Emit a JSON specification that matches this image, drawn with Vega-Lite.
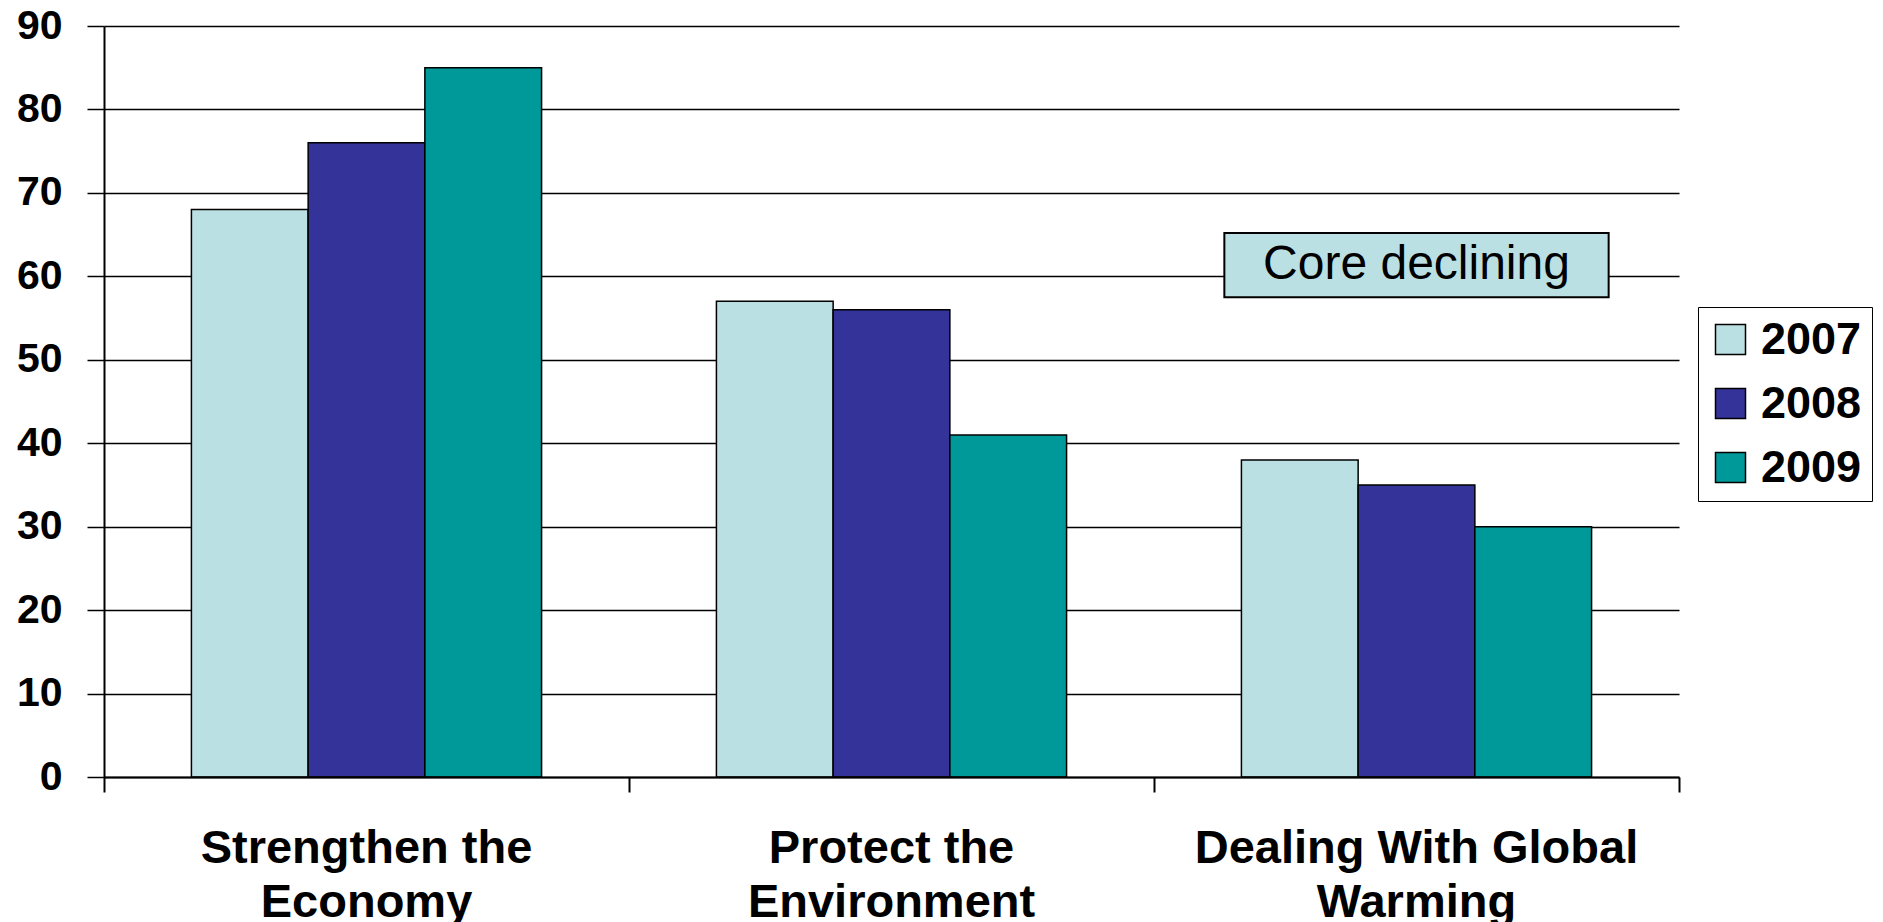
{
  "$schema": "https://vega.github.io/schema/vega-lite/v6.json",
  "width": 1575,
  "height": 751,
  "autosize": "none",
  "padding": {"left": 104, "top": 26, "right": 204, "bottom": 145},
  "background": "white",
  "config": {
    "view": {"stroke": null},
    "font": "Liberation Sans"
  },
  "layer": [
    {
      "data": {
        "values": [
          {"issue": "Strengthen the Economy", "year": "2007", "value": 68},
          {"issue": "Strengthen the Economy", "year": "2008", "value": 76},
          {"issue": "Strengthen the Economy", "year": "2009", "value": 85},
          {"issue": "Protect the Environment", "year": "2007", "value": 57},
          {"issue": "Protect the Environment", "year": "2008", "value": 56},
          {"issue": "Protect the Environment", "year": "2009", "value": 41},
          {"issue": "Dealing With Global Warming", "year": "2007", "value": 38},
          {"issue": "Dealing With Global Warming", "year": "2008", "value": 35},
          {"issue": "Dealing With Global Warming", "year": "2009", "value": 30}
        ]
      },
      "mark": {"type": "bar", "stroke": "black", "strokeWidth": 1.5},
      "encoding": {
        "x": {
          "field": "issue",
          "type": "nominal",
          "scale": {
            "domain": ["Strengthen the Economy", "Protect the Environment", "Dealing With Global Warming"],
            "paddingInner": 0,
            "paddingOuter": 0
          },
          "axis": {
            "title": null,
            "bandPosition": 1,
            "tickExtra": true,
            "grid": false,
            "domainColor": "black",
            "domainWidth": 2,
            "tickColor": "black",
            "tickWidth": 2,
            "tickSize": 15,
            "labelAngle": 0,
            "labelFont": "Liberation Sans",
            "labelFontSize": 47,
            "labelFontWeight": "bold",
            "labelColor": "black",
            "labelBaseline": "top",
            "labelPadding": 33,
            "labelLineHeight": 54,
            "labelLimit": 0,
            "labelExpr": "[slice(datum.label, 0, lastindexof(datum.label, ' ')), slice(datum.label, lastindexof(datum.label, ' ') + 1)]",
            "zindex": 1
          }
        },
        "xOffset": {
          "field": "year",
          "type": "nominal",
          "scale": {"paddingInner": 0, "paddingOuter": 0.749}
        },
        "y": {
          "field": "value",
          "type": "quantitative",
          "scale": {"domain": [0, 90], "nice": false},
          "axis": {
            "title": null,
            "values": [0, 10, 20, 30, 40, 50, 60, 70, 80, 90],
            "grid": true,
            "gridColor": "black",
            "gridWidth": 1.5,
            "gridOpacity": 1,
            "domainColor": "black",
            "domainWidth": 2,
            "tickColor": "black",
            "tickWidth": 1.5,
            "tickSize": 17,
            "labelFont": "Liberation Sans",
            "labelFontSize": 41,
            "labelFontWeight": "bold",
            "labelColor": "black",
            "labelPadding": 25,
            "labelFlush": false,
            "labelOverlap": false,
            "zindex": 0
          }
        },
        "color": {
          "field": "year",
          "type": "nominal",
          "scale": {"domain": ["2007", "2008", "2009"], "range": ["#BBE0E3", "#333399", "#009999"]},
          "legend": {
            "title": null,
            "orient": "none",
            "legendX": 1594,
            "legendY": 281,
            "strokeColor": "black",
            "fillColor": "white",
            "padding": 10,
            "symbolType": "square",
            "symbolSize": 900,
            "symbolStrokeColor": "black",
            "symbolStrokeWidth": 1.5,
            "symbolOpacity": 1,
            "labelFont": "Liberation Sans",
            "labelFontSize": 45,
            "labelFontWeight": "bold",
            "labelColor": "black",
            "labelOffset": 8,
            "rowPadding": 18
          }
        }
      }
    },
    {
      "data": {
        "values": [
          {"issue": "Dealing With Global Warming", "note": "Core declining", "top": 65.2, "bottom": 57.5, "mid": 61.4}
        ]
      },
      "mark": {"type": "bar", "fill": "#BBE0E3", "stroke": "black", "strokeWidth": 2, "width": {"band": 0.732}},
      "encoding": {
        "x": {"field": "issue", "type": "nominal"},
        "y": {"field": "top", "type": "quantitative"},
        "y2": {"field": "bottom"}
      }
    },
    {
      "data": {
        "values": [
          {"issue": "Dealing With Global Warming", "note": "Core declining", "top": 65.2, "bottom": 57.5, "mid": 61.4}
        ]
      },
      "mark": {"type": "text", "font": "Liberation Sans", "fontSize": 48, "color": "black", "baseline": "middle", "align": "center"},
      "encoding": {
        "x": {"field": "issue", "type": "nominal"},
        "y": {"field": "mid", "type": "quantitative"},
        "text": {"field": "note"}
      }
    }
  ]
}
